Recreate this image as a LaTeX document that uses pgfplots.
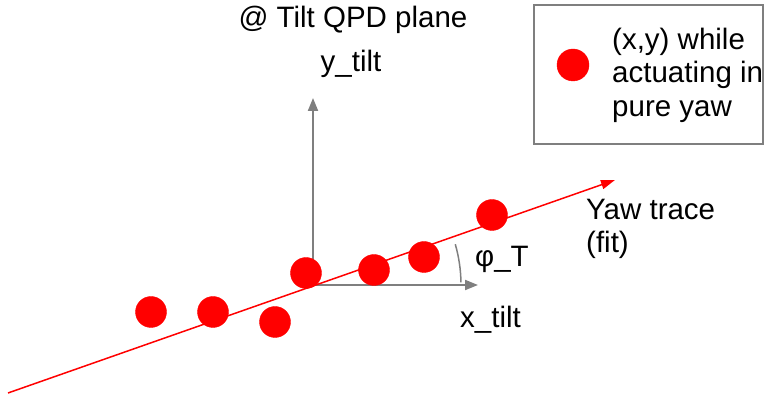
\documentclass[border=0pt]{standalone}
\usepackage{fontspec}
\setmainfont{Liberation Sans}
\usepackage{pgfplots}
\pgfplotsset{compat=1.18}
\usetikzlibrary{arrows.meta}
\definecolor{axgray}{HTML}{7F7F7F}
\begin{document}
\begin{tikzpicture}
\fontsize{29.5}{34}\selectfont
\begin{axis}[
  width=766pt, height=395pt, scale only axis,
  xmin=0, xmax=766, ymin=0, ymax=395,
  axis lines=none, clip=false,
]
% axes of the tilt plane
\draw[axgray, line width=2pt, -{Triangle[length=13pt,width=10pt]}] (axis cs:313,112) -- (axis cs:313,297);
\draw[axgray, line width=2pt, -{Triangle[length=13pt,width=10pt]}] (axis cs:313,110) -- (axis cs:478,110);
\draw[axgray, line width=1.5pt] (axis cs:313,110) ++(1:148pt) arc[start angle=1, end angle=16, radius=148pt];
% fit line
\addplot[red, line width=1.5pt, -{Triangle[length=14pt,width=9pt]}] coordinates {(8,2) (615,215)};
% data points
\addplot[only marks, mark=*, mark size=15.5pt, color=red, mark options={draw=red, fill=red}] coordinates {
  (151,83) (213,83) (275,73) (306,122) (374,125) (424,138) (492,180)
};
% legend
\draw[axgray, line width=2pt] (axis cs:534,251) rectangle (axis cs:763,390);
\addplot[only marks, mark=*, mark size=16pt, color=red, mark options={draw=red, fill=red}] coordinates {(573,330)};
\node[anchor=base west, inner sep=0pt] at (axis cs:612,345) {(x,y) while};
\node[anchor=base west, inner sep=0pt] at (axis cs:612,312) {actuating in};
\node[anchor=base west, inner sep=0pt] at (axis cs:612,278) {pure yaw};
% labels
\node[anchor=base, inner sep=0pt] at (axis cs:353,367) {@ Tilt QPD plane};
\node[anchor=base, inner sep=0pt] at (axis cs:351,323) {y\_tilt};
\node[anchor=base west, inner sep=0pt] at (axis cs:475,128) {φ\_T};
\node[anchor=base west, inner sep=0pt] at (axis cs:460,67) {x\_tilt};
\node[anchor=base west, inner sep=0pt] at (axis cs:586,175) {Yaw trace};
\node[anchor=base west, inner sep=0pt] at (axis cs:586,142) {(fit)};
\end{axis}
\pgfresetboundingbox
\useasboundingbox (current axis.south west) rectangle (current axis.north east);
\end{tikzpicture}
\end{document}
